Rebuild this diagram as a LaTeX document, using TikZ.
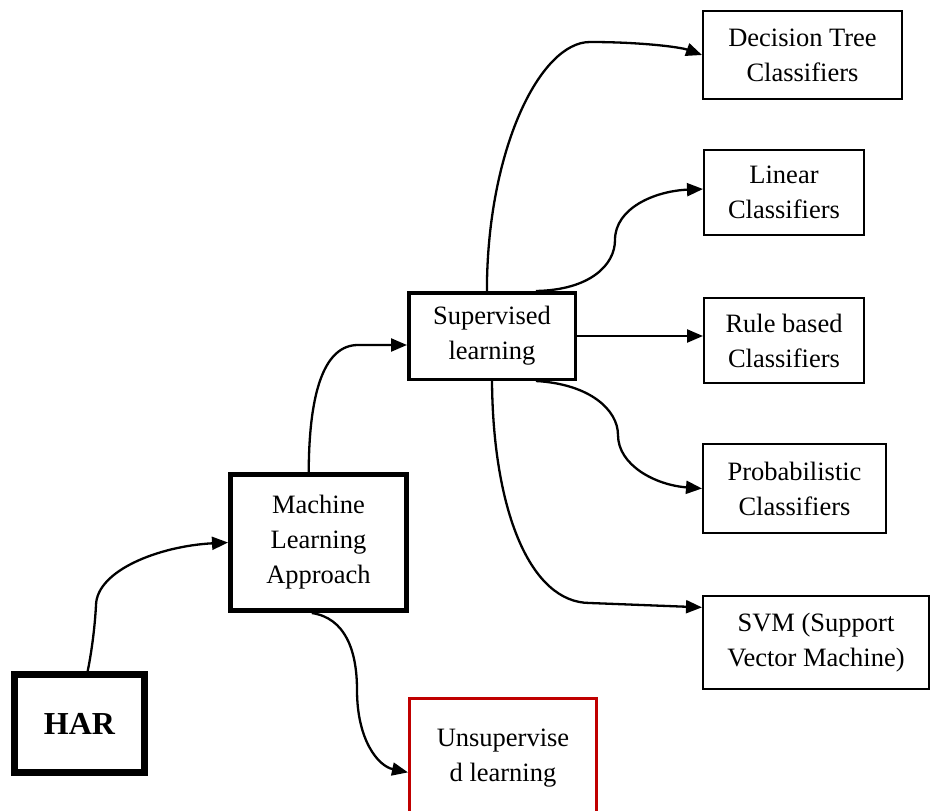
\documentclass[tikz,border=0pt]{standalone}
\usepackage{fontspec}
\setmainfont{Liberation Serif}
\usetikzlibrary{arrows.meta,calc}
\definecolor{boxred}{RGB}{192,0,0}
\begin{document}
\begin{tikzpicture}[x=1pt,y=-1pt,
  box/.style={draw, rectangle, inner sep=0pt, align=center, font=\fontsize{26.5}{35}\selectfont},
  conn/.style={line width=2.3pt, -{Triangle[length=16pt,width=13pt]}},
  ]
\useasboundingbox (0,0) rectangle (932,811);
\clip (0,0) rectangle (932,811);
\fill[white] (0,0) rectangle (932,811);

\node[box, line width=7pt, minimum width=130pt, minimum height=98pt, font=\fontsize{32}{38}\selectfont\bfseries] (har) at (79.5,723.5) {HAR};
\node[box, line width=5pt, minimum width=176pt, minimum height=136pt] (ml) at (318.5,542.5) {Machine\\Learning\\Approach};
\node[box, line width=3.5pt, minimum width=166.5pt, minimum height=86.5pt] (sup) at (492,336) {Supervised\\learning};
\node[box, line width=2pt, minimum width=199pt, minimum height=88pt] (dec) at (802.5,55) {Decision Tree\\Classifiers};
\node[box, line width=2pt, minimum width=160pt, minimum height=85pt] (lin) at (784,192.5) {Linear\\Classifiers};
\node[box, line width=2pt, minimum width=160pt, minimum height=85pt] (rule) at (784,340.5) {Rule based\\Classifiers};
\node[box, line width=2pt, minimum width=183pt, minimum height=89pt] (prob) at (794.5,488.5) {Probabilistic\\Classifiers};
\node[box, line width=2pt, minimum width=226pt, minimum height=93pt] (svm) at (816,642.5) {SVM (Support\\Vector Machine)};
\node[box, draw=boxred, line width=3pt, minimum width=187pt, minimum height=119pt] (uns) at (503,758) {Unsupervise\\d learning};

% anchor points on box sides
\coordinate (harT) at ($(har.north west)!0.56!(har.north east)$);
\coordinate (mlT) at ($(ml.north west)!0.446!(ml.north east)$);
\coordinate (mlB) at ($(ml.south west)!0.463!(ml.south east)$);
\coordinate (supL) at ($(sup.north west)!0.6!(sup.south west)$);
\coordinate (supT1) at ($(sup.north west)!0.47!(sup.north east)$);
\coordinate (supT2) at ($(sup.north west)!0.758!(sup.north east)$);
\coordinate (supB2) at ($(sup.south west)!0.758!(sup.south east)$);
\coordinate (unsL) at ($(uns.north west)!0.618!(uns.south west)$);
\coordinate (linL) at ($(lin.north west)!0.46!(lin.south west)$);
\coordinate (svmL) at ($(svm.north west)!0.13!(svm.south west)$);

% connectors
\draw[conn] (harT) .. controls (92,650) and (95,625) .. (96,605)
  .. controls (97,570) and (160,546) .. (ml.west);
\draw[conn] (mlT) .. controls (309,390) and (325,345) .. (358,345) -- (supL);
\draw[conn] (mlB) .. controls (345,618) and (357,650) .. (357,690)
  .. controls (357,740) and (378,766) .. (unsL);
\draw[conn] (supT1) .. controls (487,150) and (540,42) .. (590,42)
  .. controls (640,42) and (680,47) .. (dec.west);
\draw[conn] (supT2) .. controls (590,290) and (615,265) .. (615,240)
  .. controls (615,208) and (655,191) .. (linL);
\draw[conn] (sup.east) -- (sup.east -| rule.west);
\draw[conn] (supB2) .. controls (590,384) and (618,410) .. (618,435)
  .. controls (618,465) and (655,485) .. (prob.west);
\draw[conn] (sup.south) .. controls (493,510) and (530,603) .. (590,603) -- (svmL);
\end{tikzpicture}
\end{document}
